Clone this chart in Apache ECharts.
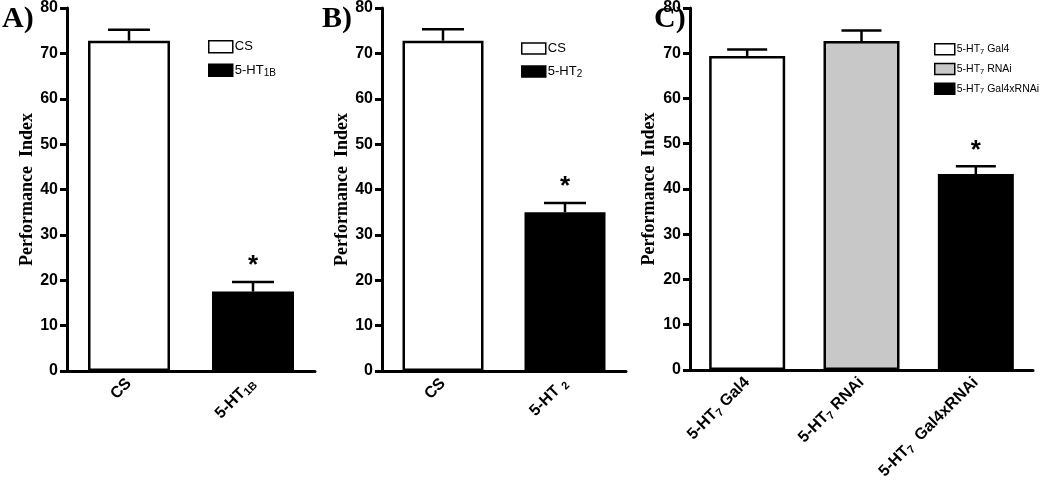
<!DOCTYPE html>
<html><head><meta charset="utf-8">
<script src="https://cdn.jsdelivr.net/npm/echarts@6/dist/echarts.min.js"></script>
<style>html,body{margin:0;padding:0;background:#fff}#c{width:1050px;height:483px}</style>
</head><body><div id="c"></div>
<script>
// Panel A
const catsA = ['CS', '5-HT{sub|1B}'];
const legA = ['CS', '5-HT1B'];
const valsA = [72.8, 17.5];
const errA = [2.4, 2.1];
const sigA = [false, true];
// Panel B
const catsB = ['CS', '5-HT {sub|2}'];
const legB = ['CS', '5-HT2'];
const valsB = [72.8, 35.0];
const errB = [2.5, 2.0];
const sigB = [false, true];
// Panel C
const catsC = ['5-HT{sub|7} Gal4', '5-HT{sub|7} RNAi', '5-HT{sub|7}  Gal4xRNAi'];
const legC = ['5-HT7 Gal4', '5-HT7 RNAi', '5-HT7 Gal4xRNAi'];
const valsC = [69.4, 72.7, 43.3];
const errC = [1.4, 2.3, 1.7];
const sigC = [false, false, true];
const yTicks = {min: 0, max: 80, interval: 10};

const fills = ['#ffffff', '#000000'];
const fillsC = ['#ffffff', '#c8c8c8', '#000000'];

const chart = echarts.init(document.getElementById('c'));
const legendFmt = (name) => {
  const m = name.match(/^5-HT(\d+\w*)(.*)$/);
  if (m) return '5-HT{s|' + m[1] + '}' + m[2];
  return name;
};
const panels = [
  {cats: catsA, leg: legA, vals: valsA, err: errA, sig: sigA, fills: fills, left: 67, right: 735, bw: 82, cap: 42, legLeft: 208, legTop: 40, legFont: 13, iw: 24, ih: 12, gap: 10, nameGap: 30},
  {cats: catsB, leg: legB, vals: valsB, err: errB, sig: sigB, fills: fills, left: 382, right: 424, bw: 81, cap: 42, legLeft: 521, legTop: 42, legFont: 13, iw: 24, ih: 11, gap: 10, nameGap: 31},
  {cats: catsC, leg: legC, vals: valsC, err: errC, sig: sigC, fills: fillsC, left: 690, right: 17, bw: 76, cap: 40, legLeft: 934, legTop: 43, legFont: 10.5, iw: 20, ih: 11, gap: 7, nameGap: 32}
];
const grid = [], xAxis = [], yAxis = [], series = [], legend = [];
panels.forEach((p, gi) => {
  grid.push({left: p.left, right: p.right, top: 8, bottom: 112, containLabel: false});
  xAxis.push({
    type: 'category', gridIndex: gi, data: p.cats,
    axisLine: {lineStyle: {color: '#000', width: 3}},
    axisTick: {alignWithLabel: true, length: 6, lineStyle: {width: 3, color: '#000'}},
    axisLabel: {
      rotate: 45, margin: 10, color: '#000', fontFamily: 'Liberation Sans, Arial', fontWeight: 'bold', fontSize: 16,
      rich: {sub: {fontSize: 11, fontWeight: 'bold', fontFamily: 'Liberation Sans, Arial', color: '#000', padding: [8, 0, 0, 0]}}
    }
  });
  yAxis.push({
    type: 'value', gridIndex: gi, min: yTicks.min, max: yTicks.max, interval: yTicks.interval,
    name: 'Performance  Index', nameLocation: 'middle', nameGap: p.nameGap, nameRotate: 90,
    nameTextStyle: {fontFamily: 'Liberation Serif, Times New Roman', fontWeight: 'bold', fontSize: 18, color: '#000'},
    axisLine: {show: true, lineStyle: {color: '#000', width: 3}},
    axisTick: {show: true, length: 7, lineStyle: {width: 3, color: '#000'}},
    splitLine: {show: false},
    axisLabel: {color: '#000', fontFamily: 'Liberation Sans, Arial', fontWeight: 'bold', fontSize: 16, margin: 9}
  });
  p.leg.forEach((name, i) => {
    const data = p.vals.map((v, j) => j === i ? v : '-');
    series.push({
      type: 'bar', name: name, xAxisIndex: gi, yAxisIndex: gi, data: data,
      barWidth: p.bw, barGap: '-100%',
      itemStyle: {color: p.fills[i], borderColor: '#000', borderWidth: 2.5},
      z: 2
    });
  });
  series.push({
    type: 'custom', xAxisIndex: gi, yAxisIndex: gi, z: 1,
    data: p.vals.map((v, j) => [j, v, p.err[j], p.sig[j] ? 1 : 0]),
    renderItem: (params, api) => {
      const x = api.value(0), v = api.value(1), e = api.value(2), s = api.value(3);
      const base = api.coord([x, v]);
      const top = api.coord([x, v + e]);
      const h = p.cap / 2;
      const children = [
        {type: 'line', shape: {x1: base[0], y1: base[1], x2: top[0], y2: top[1]}, style: {stroke: '#000', lineWidth: 2.5}},
        {type: 'line', shape: {x1: top[0] - h, y1: top[1], x2: top[0] + h, y2: top[1]}, style: {stroke: '#000', lineWidth: 2.5}}
      ];
      if (s) children.push({type: 'text', style: {text: '*', x: top[0], y: top[1] - 16, align: 'center', verticalAlign: 'middle', fontSize: 26, fontFamily: 'Liberation Sans, Arial', fontWeight: 'bold', fill: '#000'}});
      return {type: 'group', children: children};
    }
  });
  legend.push({
    data: p.leg, orient: 'vertical', left: p.legLeft, top: p.legTop, padding: 0,
    itemWidth: p.iw, itemHeight: p.ih, itemGap: p.gap, icon: 'rect',
    selectedMode: false, formatter: legendFmt,
    itemStyle: {borderColor: '#000', borderWidth: 1.5},
    textStyle: {color: '#000', fontFamily: 'Liberation Sans, Arial', fontSize: p.legFont, padding: [0, 0, 0, -3],
      rich: {s: {fontSize: p.legFont - 3, color: '#000', fontFamily: 'Liberation Sans, Arial', padding: [5, 0, 0, 0]}}}
  });
});

chart.setOption({
  animation: false,
  backgroundColor: '#fff',
  grid: grid, xAxis: xAxis, yAxis: yAxis, series: series, legend: legend,
  graphic: [
    {type: 'text', left: 2, top: 4, style: {text: 'A)', font: 'bold 30px "Liberation Serif", "Times New Roman"', fill: '#000'}},
    {type: 'text', left: 322, top: 4, style: {text: 'B)', font: 'bold 30px "Liberation Serif", "Times New Roman"', fill: '#000'}},
    {type: 'text', left: 654, top: 4, style: {text: 'C)', font: 'bold 30px "Liberation Serif", "Times New Roman"', fill: '#000'}}
  ]
});
</script></body></html>
